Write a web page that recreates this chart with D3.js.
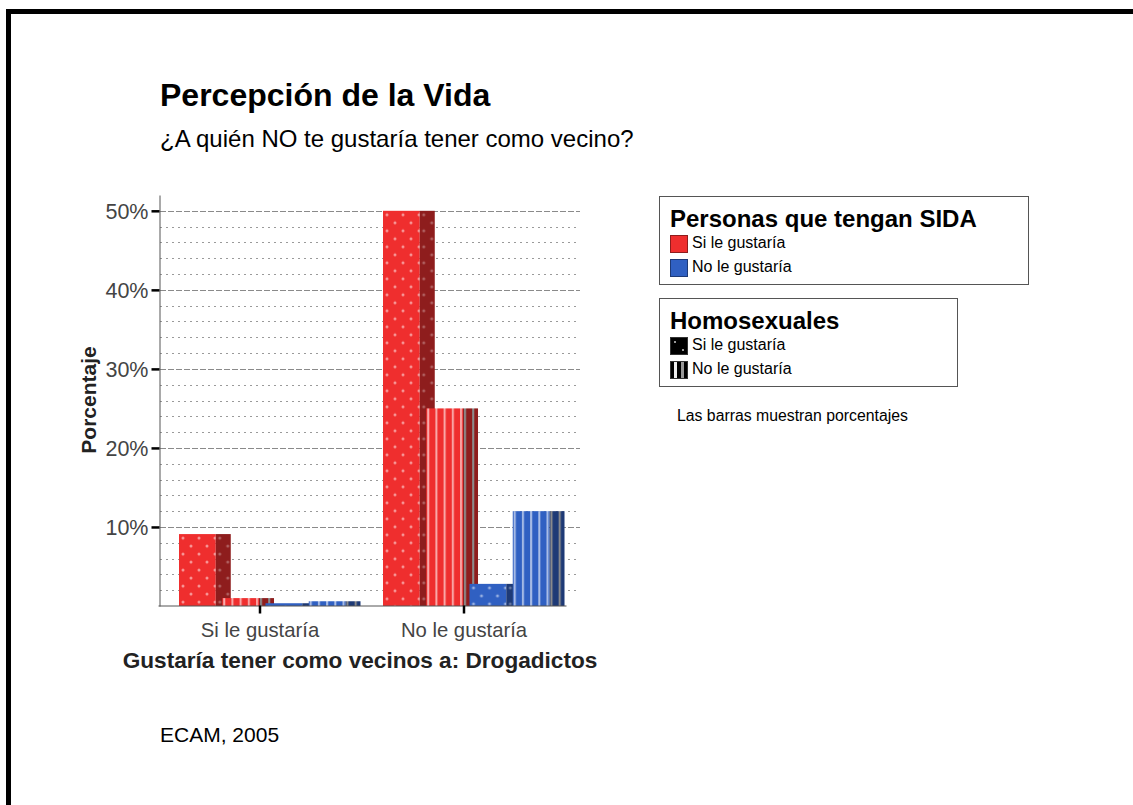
<!DOCTYPE html>
<html>
<head>
<meta charset="utf-8">
<script src="https://cdn.jsdelivr.net/npm/d3@7"></script>
<style>
  body { margin: 0; background: #fff; }
  svg { display: block; font-family: "Liberation Sans", Arial, sans-serif; }
</style>
</head>
<body>
<script>
var w = 1133;
var h = 805;

// data
var groups = ["Si le gustaría", "No le gustaría"];
var sidaLevels = ["Si le gustaría", "Si le gustaría", "No le gustaría", "No le gustaría"];
var homoLevels = ["Si le gustaría", "No le gustaría", "Si le gustaría", "No le gustaría"];
var barKeys = ["siSi", "siNo", "noSi", "noNo"];
var siSida_siHomo = [9.1, 50.0];
var siSida_noHomo = [1.0, 25.0];
var noSida_siHomo = [0.35, 2.8];
var noSida_noHomo = [0.6, 12.0];
var yTicks = [10, 20, 30, 40, 50];
var legendSida = ["Si le gustaría", "No le gustaría"];
var legendHomo = ["Si le gustaría", "No le gustaría"];

var seriesValues = [siSida_siHomo, siSida_noHomo, noSida_siHomo, noSida_noHomo];

var dataset = [];
groups.forEach((g, gi) => {
    barKeys.forEach((k, ki) => {
        dataset.push({
            group: g,
            key: k,
            sida: sidaLevels[ki],
            homo: homoLevels[ki],
            value: seriesValues[ki][gi]
        });
    });
});

var colors = {
    "Si le gustaría": { main: "#EF2E2E", side: "#8E1D1D" },
    "No le gustaría": { main: "#3060C2", side: "#1E3A76" }
};

var svg = d3.select("body")
    .append("svg")
    .attr("width", w)
    .attr("height", h);

// outer frame
svg.append("rect")
    .attr("x", 8.5)
    .attr("y", 11.5)
    .attr("width", 1300)
    .attr("height", 1000)
    .attr("fill", "none")
    .attr("stroke", "black")
    .attr("stroke-width", 5);

var x0 = d3.scaleBand()
    .domain(groups)
    .range([158, 566])
    .padding(0);

var x1 = d3.scaleBand()
    .domain(barKeys)
    .range([21, 194])
    .padding(0);

var y = d3.scaleLinear()
    .domain([0, 52])
    .range([606, 195]);

var mainW = x1.step() * 0.85;
var sideW = 15;

// gridlines
var minor = d3.range(2, 52, 2).filter(v => v % 10 !== 0);
svg.append("g").selectAll("line")
    .data(minor)
    .enter()
    .append("line")
    .attr("x1", 160)
    .attr("x2", 580)
    .attr("y1", d => Math.round(y(d)) + 0.5)
    .attr("y2", d => Math.round(y(d)) + 0.5)
    .attr("stroke", "#9a9a9a")
    .attr("stroke-width", 1)
    .attr("stroke-dasharray", "2,4");

svg.append("g").selectAll("line")
    .data(yTicks)
    .enter()
    .append("line")
    .attr("x1", 160)
    .attr("x2", 580)
    .attr("y1", d => Math.round(y(d)) + 0.5)
    .attr("y2", d => Math.round(y(d)) + 0.5)
    .attr("stroke", "#8a8a8a")
    .attr("stroke-width", 1)
    .attr("stroke-dasharray", "6,2");

// patterns, one per bar face so each starts at its face edge
var defs = svg.append("defs");

function faceX(d, side) {
    return x0(d.group) + x1(d.key) + (side ? mainW : 0);
}

dataset.forEach((d, i) => {
    [false, true].forEach(side => {
        var px = faceX(d, side);
        var py = y(d.value);
        var fill = side ? colors[d.sida].side : colors[d.sida].main;
        var id = "pat" + i + (side ? "s" : "m");
        if (d.homo === "Si le gustaría") {
            var p = defs.append("pattern")
                .attr("id", id)
                .attr("patternUnits", "userSpaceOnUse")
                .attr("x", px)
                .attr("y", py)
                .attr("width", 16)
                .attr("height", 16);
            p.append("rect").attr("width", 16).attr("height", 16).attr("fill", fill);
            p.selectAll("circle")
                .data([[4, 4], [12, 12]])
                .enter()
                .append("circle")
                .attr("cx", c => c[0])
                .attr("cy", c => c[1])
                .attr("r", 1.5)
                .attr("fill", "white")
                .attr("fill-opacity", side ? 0.3 : 0.5);
        } else {
            var p2 = defs.append("pattern")
                .attr("id", id)
                .attr("patternUnits", "userSpaceOnUse")
                .attr("x", px)
                .attr("y", py)
                .attr("width", 8.2)
                .attr("height", 10);
            p2.append("rect").attr("width", 8.2).attr("height", 10).attr("fill", fill);
            p2.append("rect")
                .attr("x", 1)
                .attr("width", 2)
                .attr("height", 10)
                .attr("fill", side ? "#8c8c8c" : "white")
                .attr("fill-opacity", side ? 1 : 0.6);
        }
    });
});

// bars: main face + darker side face
var bars = svg.append("g").selectAll("g")
    .data(dataset)
    .enter()
    .append("g");

bars.append("rect")
    .attr("x", d => faceX(d, false))
    .attr("y", d => y(d.value))
    .attr("width", mainW)
    .attr("height", d => y(0) - y(d.value))
    .attr("fill", (d, i) => `url(#pat${i}m)`);

bars.append("rect")
    .attr("x", d => faceX(d, true))
    .attr("y", d => y(d.value))
    .attr("width", sideW)
    .attr("height", d => y(0) - y(d.value))
    .attr("fill", (d, i) => `url(#pat${i}s)`);

// axes
var yAxis = d3.axisLeft(y)
    .tickValues(yTicks)
    .tickFormat(d => d + "%")
    .tickSize(8)
    .tickSizeOuter(0);

var gy = svg.append("g")
    .attr("transform", "translate(159.5,0)")
    .call(yAxis);
gy.select(".domain").attr("stroke", "#555");
gy.selectAll(".tick line").attr("stroke", "black").attr("stroke-width", 2.5);
gy.selectAll(".tick text")
    .attr("x", -11)
    .attr("dy", "0.36em")
    .attr("fill", "#444")
    .attr("font-size", 21.5)
    .attr("font-family", "Liberation Sans, Arial, sans-serif");

var xAxis = d3.axisBottom(x0)
    .tickSize(8)
    .tickSizeOuter(0);

var gx = svg.append("g")
    .attr("transform", "translate(0,605.5)")
    .call(xAxis);
gx.select(".domain").attr("stroke", "#555");
gx.selectAll(".tick line").attr("stroke", "black").attr("stroke-width", 2.5);
gx.selectAll(".tick text")
    .attr("y", 31)
    .attr("dy", 0)
    .attr("fill", "#444")
    .attr("font-size", 20.3)
    .attr("font-family", "Liberation Sans, Arial, sans-serif");

// axis titles
svg.append("text")
    .attr("x", 360)
    .attr("y", 668)
    .attr("text-anchor", "middle")
    .attr("font-size", 22.6)
    .attr("font-weight", "bold")
    .attr("fill", "#222")
    .text("Gustaría tener como vecinos a: Drogadictos");

svg.append("text")
    .attr("transform", "translate(96,400) rotate(-90)")
    .attr("text-anchor", "middle")
    .attr("font-size", 21)
    .attr("font-weight", "bold")
    .attr("fill", "#222")
    .text("Porcentaje");

// titles
svg.append("text")
    .attr("x", 160)
    .attr("y", 106)
    .attr("font-size", 32)
    .attr("font-weight", "bold")
    .text("Percepción de la Vida");

svg.append("text")
    .attr("x", 160)
    .attr("y", 147)
    .attr("font-size", 24)
    .text("¿A quién NO te gustaría tener como vecino?");

// legends
function legendBox(x, yTop, width, height, title, labels, swatch) {
    var g = svg.append("g");
    g.append("rect")
        .attr("x", x + 0.5)
        .attr("y", yTop + 0.5)
        .attr("width", width)
        .attr("height", height)
        .attr("fill", "white")
        .attr("stroke", "#555");
    g.append("text")
        .attr("x", x + 11)
        .attr("y", yTop + 31)
        .attr("font-size", 24)
        .attr("font-weight", "bold")
        .text(title);
    var items = g.selectAll(".item")
        .data(labels)
        .enter()
        .append("g")
        .attr("transform", (d, i) => `translate(${x + 11},${yTop + 39 + i * 24})`);
    items.each(function(d, i) { swatch(d3.select(this), i); });
    items.append("text")
        .attr("x", 22)
        .attr("y", 13)
        .attr("font-size", 16)
        .text(d => d);
}

var sidaCols = [colors["Si le gustaría"], colors["No le gustaría"]];
legendBox(659, 196, 369, 88, "Personas que tengan SIDA", legendSida, (s, i) => {
    s.append("rect")
        .attr("x", 0.5).attr("y", 0.5)
        .attr("width", 17).attr("height", 17)
        .attr("fill", sidaCols[i].main)
        .attr("stroke", sidaCols[i].side);
});

legendBox(659, 298, 298, 88, "Homosexuales", legendHomo, (s, i) => {
    s.append("rect")
        .attr("x", 0.5).attr("y", 0.5)
        .attr("width", 17).attr("height", 17)
        .attr("fill", "black")
        .attr("stroke", "#333");
    if (i === 0) {
        s.selectAll("circle")
            .data([[5, 5], [13, 13]])
            .enter()
            .append("circle")
            .attr("cx", c => c[0])
            .attr("cy", c => c[1])
            .attr("r", 1)
            .attr("fill", "#ccc");
    } else {
        s.selectAll(".st")
            .data([4, 11])
            .enter()
            .append("rect")
            .attr("x", c => c)
            .attr("y", 1)
            .attr("width", 3)
            .attr("height", 16)
            .attr("fill", (c, j) => j === 0 ? "#eee" : "#999");
    }
});

svg.append("text")
    .attr("x", 677)
    .attr("y", 421)
    .attr("font-size", 15.8)
    .text("Las barras muestran porcentajes");

svg.append("text")
    .attr("x", 160)
    .attr("y", 742)
    .attr("font-size", 21)
    .text("ECAM, 2005");
</script>
</body>
</html>
